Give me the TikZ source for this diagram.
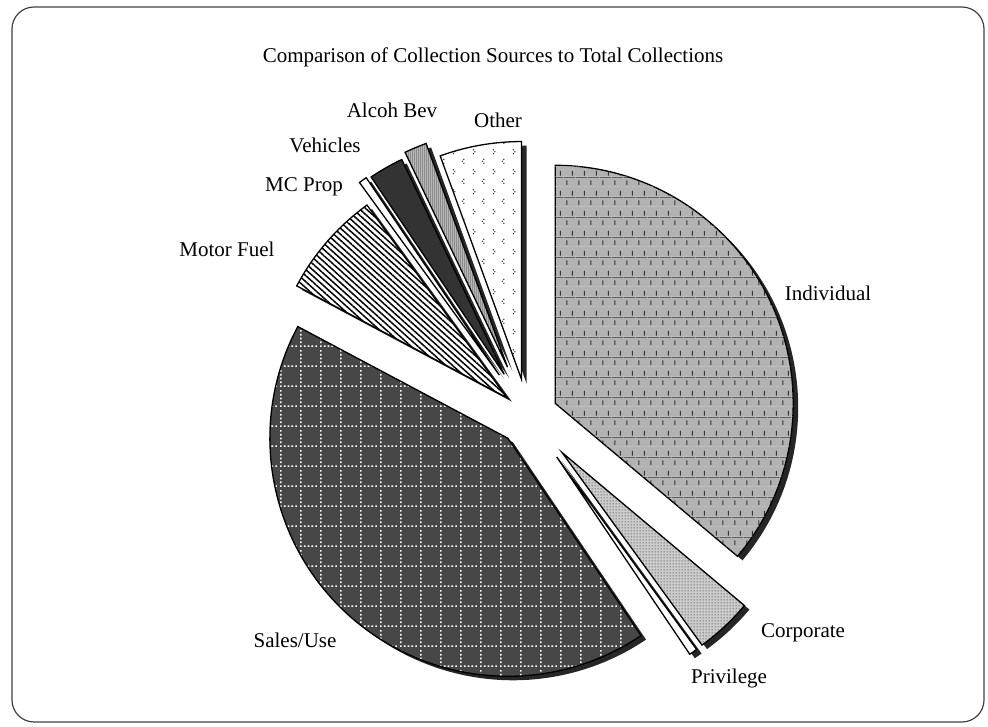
\documentclass[tikz,border=0pt]{standalone}
\usepackage{fontspec}
\setmainfont{Liberation Serif}
\usepackage{tikz}
\usetikzlibrary{patterns,patterns.meta}

% short vertical dashes, staggered
\pgfdeclarepatternformonly{brickdash}{\pgfqpoint{0pt}{0pt}}{\pgfqpoint{12pt}{20pt}}{\pgfqpoint{12pt}{20pt}}{%
  \pgfsetlinewidth{1.1pt}
  \pgfpathmoveto{\pgfqpoint{3pt}{2pt}}\pgfpathlineto{\pgfqpoint{3pt}{7pt}}
  \pgfpathmoveto{\pgfqpoint{9pt}{12pt}}\pgfpathlineto{\pgfqpoint{9pt}{17pt}}
  \pgfusepath{stroke}
  \pgfsetlinewidth{0.5pt}
  \pgfpathmoveto{\pgfqpoint{0pt}{10pt}}\pgfpathlineto{\pgfqpoint{12pt}{10pt}}
  \pgfusepath{stroke}}
\pgfdeclarepatternformonly{brickline}{\pgfqpoint{0pt}{0pt}}{\pgfqpoint{12pt}{10pt}}{\pgfqpoint{12pt}{10pt}}{%
  \pgfsetlinewidth{0.6pt}
  \pgfpathmoveto{\pgfqpoint{0pt}{0pt}}\pgfpathlineto{\pgfqpoint{12pt}{0pt}}
  \pgfusepath{stroke}}
% dotted grid
\pgfdeclarepatternformonly{dotgrid}{\pgfqpoint{0pt}{0pt}}{\pgfqpoint{20pt}{20pt}}{\pgfqpoint{20pt}{20pt}}{%
  \foreach \i in {0,4,8,12,16}{\pgfpathrectangle{\pgfqpoint{\i pt}{0pt}}{\pgfqpoint{1.8pt}{1.8pt}}}
  \foreach \j in {4,8,12,16}{\pgfpathrectangle{\pgfqpoint{0pt}{\j pt}}{\pgfqpoint{1.8pt}{1.8pt}}}
  \pgfusepath{fill}}
% little dot clusters
\pgfdeclarepatternformonly{dotpairs}{\pgfqpoint{0pt}{0pt}}{\pgfqpoint{20pt}{20pt}}{\pgfqpoint{20pt}{20pt}}{%
  \pgfpathcircle{\pgfqpoint{4pt}{4pt}}{0.8pt}
  \pgfpathcircle{\pgfqpoint{2.5pt}{6pt}}{0.8pt}
  \pgfpathcircle{\pgfqpoint{4pt}{8pt}}{0.8pt}
  \pgfpathcircle{\pgfqpoint{14pt}{14pt}}{0.8pt}
  \pgfpathcircle{\pgfqpoint{15.5pt}{16pt}}{0.8pt}
  \pgfpathcircle{\pgfqpoint{14pt}{18pt}}{0.8pt}
  \pgfusepath{fill}}
% fine stipple
\pgfdeclarepatternformonly{stipple}{\pgfqpoint{0pt}{0pt}}{\pgfqpoint{3pt}{3pt}}{\pgfqpoint{3pt}{3pt}}{%
  \pgfpathcircle{\pgfqpoint{1.5pt}{1.5pt}}{0.8pt}
  \pgfusepath{fill}}

\begin{document}
\begin{tikzpicture}[x=1pt,y=1pt,line width=1.3pt,
    every node/.style={font=\fontsize{21}{25}\selectfont},
    shade/.style={fill=black!85,draw=none},
    indiv/.style={preaction={fill=black!30},postaction={pattern=brickline,pattern color=black!18},pattern=brickdash,pattern color=black!80},
    other/.style={preaction={fill=white},pattern=dotpairs,pattern color=black!80},
    alcoh/.style={preaction={fill=black!28},pattern={Lines[angle=90,distance=2pt,line width=0.4pt]},pattern color=black!45},
    vehic/.style={fill=black!80},
    mcprop/.style={fill=white},
    motor/.style={preaction={fill=white},pattern={Lines[angle=-42,distance=4.5pt,line width=1.5pt]},pattern color=black},
    sales/.style={preaction={fill=black!72},pattern=dotgrid,pattern color=white},
    privil/.style={fill=white},
    corp/.style={preaction={fill=black!20},pattern=stipple,pattern color=black!75}]
    \useasboundingbox (0,0) rectangle (988,727);
    \draw[black!75, line width=1.2pt, rounded corners=22pt] (12,5) rectangle (984,720);
    \node (title) at (493,670) {Comparison of Collection Sources to Total Collections};

    \begin{scope}[shift={(528,311)}]
    % shadows first
    \foreach \a/\b/\d/\s in {320/450/30/indiv, 90/110/37/other, 110/115.5/53/alcoh, 115.5/124/48/vehic,
        124/126/50/mcprop, 126/152/28/motor, 152/304/30/sales, 304/306/50/privil, 306/320/50/corp}{
      \pgfmathsetmacro{\m}{(\a+\b)/2}
      \fill[shade, shift={(\m:\d)}, xshift=5pt, yshift=-4pt] (0,0) -- (\a:238) arc[start angle=\a, end angle=\b, radius=238] -- cycle;
    }
    \foreach \a/\b/\d/\s in {320/450/30/indiv, 90/110/37/other, 110/115.5/53/alcoh, 115.5/124/48/vehic,
        124/126/50/mcprop, 126/152/28/motor, 152/304/30/sales, 304/306/50/privil, 306/320/50/corp}{
      \pgfmathsetmacro{\m}{(\a+\b)/2}
      \draw[\s, shift={(\m:\d)}] (0,0) -- (\a:238) arc[start angle=\a, end angle=\b, radius=238] -- cycle;
    }
    \end{scope}

    \node (individual) at (828,434) {Individual};
    \node (other) at (498,607) {Other};
    \node (alcohbev) at (392,617) {Alcoh Bev};
    \node (vehicles) at (325,582) {Vehicles};
    \node (mcprop) at (304,540) {MC Prop};
    \node (motorfuel) at (227,478) {Motor Fuel};
    \node (salesuse) at (295,87) {Sales/Use};
    \node (privilege) at (729,49) {Privilege};
    \node (corporate) at (803,94) {Corporate};
\end{tikzpicture}
\end{document}
